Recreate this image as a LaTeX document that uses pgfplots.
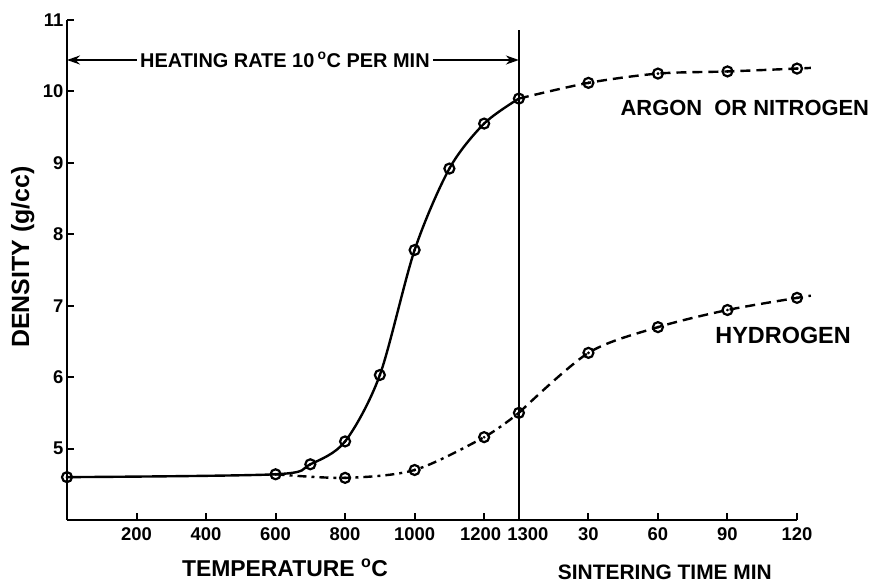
\documentclass[border=0pt]{standalone}
\usepackage{pgfplots}
\pgfplotsset{compat=1.18}
\usepackage{fontspec}
\setmainfont{Liberation Sans}
\usetikzlibrary{arrows.meta}
\newcommand{\fs}[1]{\fontsize{#1}{#1}\selectfont\bfseries}
\begin{document}
\begin{tikzpicture}
\useasboundingbox (-67bp,-66bp) rectangle (809bp,520bp);
\begin{axis}[
  scale only axis, width=730bp, height=500bp,
  xmin=0, xmax=2100, ymin=4, ymax=11,
  axis x line=bottom, axis y line=left,
  axis line style={-, line width=2.6bp},
  clip=false,
  tick style={line width=2bp, black},
  major tick length=7bp,
  tick align=inside,
  xtick={200,400,600,800,1000,1200,1500,1700,1900,2100},
  xticklabels={200,400,600,800,1000,{1200\hspace*{7bp}},30,60,90,120},
  extra x ticks={1300},
  extra x tick labels={1300},
  extra x tick style={tick label style={xshift=9bp}},
  ytick={5,6,7,8,9,10,11},
  /pgf/number format/assume math mode=true,
  tick label style={font=\fs{18.5}},
  xticklabel style={yshift=-4bp},
]
% heating rate arrow
\draw[{Stealth[length=13bp,width=9bp]}-{Stealth[length=13bp,width=9bp]}, line width=2bp] (axis cs:0,10.44) -- (axis cs:1300,10.44);
\node[fill=white, inner sep=3bp, font=\fs{20}] at (axis cs:627,10.44) {HEATING RATE 10\,\textsuperscript{o}C PER MIN};
% vertical separator
\draw[line width=2.4bp] (axis cs:1300,4) -- (axis cs:1300,10.86);

% argon: solid part
\addplot[line width=2.4bp, smooth, tension=0.5] coordinates {
 (0,4.6) (600,4.64) (700,4.78) (800,5.1) (900,6.03) (1000,7.78) (1100,8.92) (1200,9.55) (1300,9.9)};
% argon: dashed part
\addplot[line width=2.4bp, smooth, dash pattern=on 10bp off 6bp] coordinates {
 (1300,9.9) (1500,10.12) (1700,10.25) (1900,10.28) (2100,10.32) (2140,10.33)};
% hydrogen: dash-dot part
\addplot[line width=2.4bp, smooth, dash pattern=on 9bp off 5bp on 3bp off 5bp] coordinates {
 (600,4.64) (800,4.59) (1000,4.7) (1200,5.16) (1300,5.5)};
% hydrogen: dashed part
\addplot[line width=2.4bp, smooth, dash pattern=on 10bp off 6bp] coordinates {
 (1300,5.5) (1500,6.34) (1700,6.7) (1900,6.94) (2100,7.11) (2140,7.14)};

% markers
\addplot[only marks, mark=o, mark size=5bp, mark options={fill=white, line width=2.2bp}] coordinates {
 (0,4.6) (600,4.64) (700,4.78) (800,5.1) (900,6.03) (1000,7.78) (1100,8.92) (1200,9.55) (1300,9.9)
 (1500,10.12) (1700,10.25) (1900,10.28) (2100,10.32)
 (800,4.59) (1000,4.7) (1200,5.16) (1300,5.5)
 (1500,6.34) (1700,6.7) (1900,6.94) (2100,7.11)};
\addplot[only marks, mark=*, mark size=1.2bp] coordinates {
 (0,4.6) (600,4.64) (700,4.78) (800,5.1) (900,6.03) (1000,7.78) (1100,8.92) (1200,9.55) (1300,9.9)
 (1500,10.12) (1700,10.25) (1900,10.28) (2100,10.32)
 (800,4.59) (1000,4.7) (1200,5.16) (1300,5.5)
 (1500,6.34) (1700,6.7) (1900,6.94) (2100,7.11)};

% labels
\node[font=\fs{22}] at (axis cs:1950,9.77) {ARGON\ \ OR NITROGEN};
\node[font=\fs{23.5}] at (axis cs:2060,6.59) {HYDROGEN};
\node[font=\fs{23}] at (axis cs:627,3.33) {TEMPERATURE \textsuperscript{o}C};
\node[font=\fs{21}] at (axis cs:1720,3.27) {SINTERING TIME MIN};
\node[font=\fs{25}, rotate=90] at (axis cs:-127,7.68) {DENSITY (g/cc)};
\end{axis}
\end{tikzpicture}
\end{document}
